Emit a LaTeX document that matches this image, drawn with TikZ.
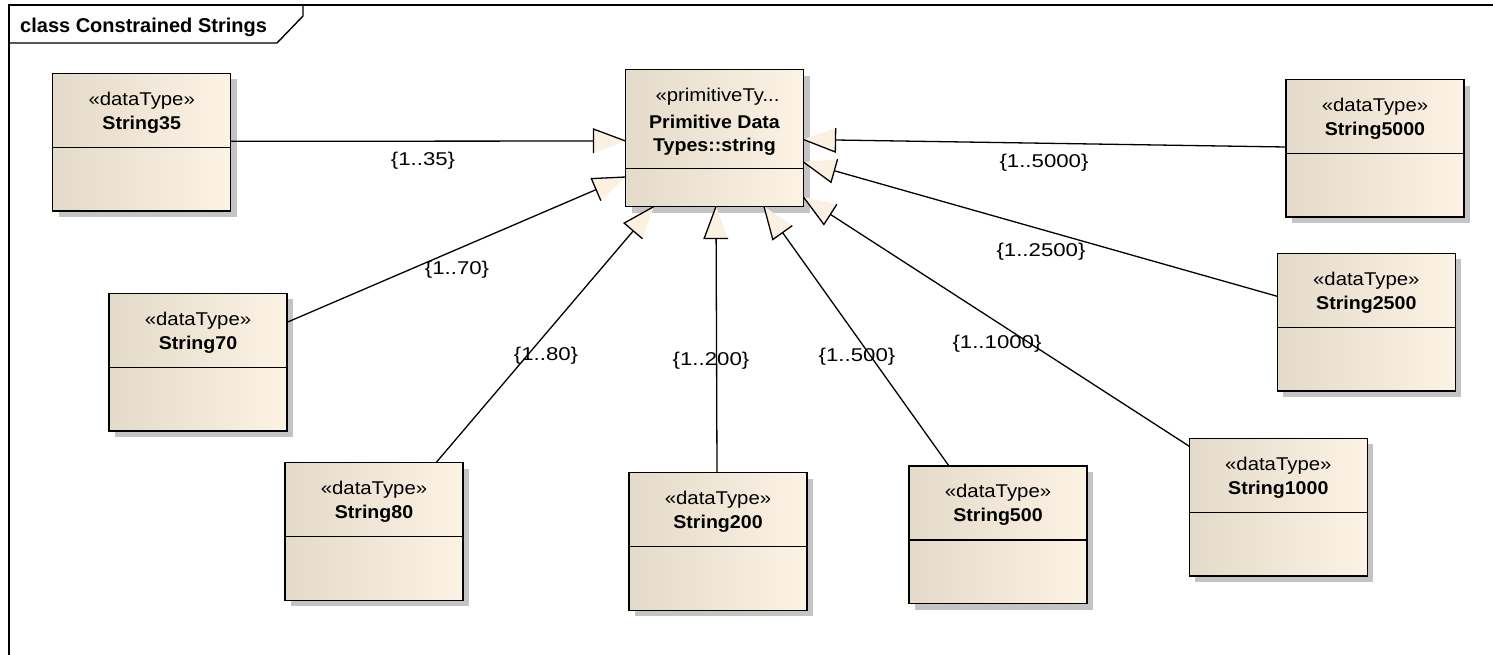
\documentclass[tikz,border=0pt]{standalone}
\usepackage{fontspec}
\setmainfont{Liberation Sans}
\newfontfamily\stfont[FakeStretch=1.1]{Liberation Sans}
\newfontfamily\nmfont[FakeStretch=1.06]{Liberation Sans}
\newfontfamily\lblfont[FakeStretch=1.2]{Liberation Sans}
\usetikzlibrary{calc}
\definecolor{boxL}{RGB}{228,218,201}
\definecolor{boxR}{RGB}{252,243,229}
\definecolor{headfill}{RGB}{251,240,225}
\definecolor{shadowc}{RGB}{196,196,196}
\tikzset{
  umlbox/.style={draw, line width=1.4pt, minimum width=178pt, minimum height=137.5pt,
    inner sep=0pt, outer sep=0pt, left color=boxL, right color=boxR, anchor=north west},
  shadowbox/.style={fill=shadowc},
  sepline/.style={line width=1.4pt},
  stereo/.style={font=\stfont\fontsize{18.5}{20}\selectfont, inner sep=0pt},
  cname/.style={font=\nmfont\bfseries\fontsize{18.5}{20}\selectfont, inner sep=0pt},
  conn/.style={line width=1.3pt, line join=miter},
  lbl/.style={font=\lblfont\fontsize{18.5}{20}\selectfont, inner sep=0pt},
  frameline/.style={line width=1.4pt},
  titletext/.style={font=\bfseries\fontsize{20}{22}\selectfont, inner sep=0pt, anchor=west}
}
% name, left, top, stereotype, class name
\newcommand{\dtbox}[5]{%
  \fill[shadowbox] (#2+6,#3+6) rectangle (#2+184,#3+143.5);
  \node[umlbox] (#1) at (#2,#3) {};
  \draw[sepline] ($(#1.north west)+(0,74)$) -- ($(#1.north east)+(0,74)$);
  \node[stereo] (#1-st) at ($(#1.north)+(0,27)$) {#4};
  \node[cname] (#1-nm) at ($(#1.north)+(0,51)$) {#5};
}
% tail, tip
\newcommand{\genarrow}[2]{%
  \path ($(#2)!32pt!(#1)$) coordinate (hb);
  \path ($(hb)!12pt!90:(#2)$) coordinate (he1);
  \path ($(hb)!12pt!-90:(#2)$) coordinate (he2);
  \draw[conn] (#1) -- (hb);
  \fill[headfill] (#2) -- (he1) -- (he2) -- cycle;
  \draw[conn] (he2) -- (he1) -- (#2);
}
\begin{document}
\begin{tikzpicture}[x=1pt, y=-1pt]
\useasboundingbox (0,0) rectangle (1493,654);
\clip (0,0) rectangle (1493,654);
\fill[white] (0,0) rectangle (1493,654);
% frame
\draw[frameline] (9,700) -- (9,5) -- (1520,5);
\draw[frameline] (9,43) -- (277,43) -- (303,16) -- (303,5);
\node[titletext] (title) at (20,27) {class Constrained Strings};
% central class
\fill[shadowbox] (625.5+6,69.5+6) rectangle (625.5+184,69.5+143);
\node[umlbox, minimum height=137pt] (base) at (625.5,69.5) {};
\draw[sepline] ($(base.north west)+(0,99)$) -- ($(base.north east)+(0,99)$);
\node[stereo] (base-st) at ($(base.north)+(3,27.5)$) {«primitiveTy...};
\node[cname] (base-n1) at ($(base.north)+(0,52)$) {Primitive Data};
\node[cname] (base-n2) at ($(base.north)+(0,77)$) {Types::string};
% data types
\dtbox{s35}{52.7}{73.3}{«dataType»}{String35}
\dtbox{s5000}{1286}{79.5}{«dataType»}{String5000}
\dtbox{s2500}{1277.3}{253.3}{«dataType»}{String2500}
\dtbox{s70}{109}{293.3}{«dataType»}{String70}
\dtbox{s80}{285}{462.7}{«dataType»}{String80}
\dtbox{s200}{629}{472.7}{«dataType»}{String200}
\dtbox{s500}{909}{466}{«dataType»}{String500}
\dtbox{s1000}{1189.3}{438.3}{«dataType»}{String1000}
% connector end points
\coordinate (a35) at ($(s35.north east)+(0,68)$);
\coordinate (a70) at ($(s70.north east)+(0,29)$);
\coordinate (a80) at ($(s80.north west)+(151,0)$);
\coordinate (a200) at ($(s200.north west)+(88,0)$);
\coordinate (a500) at ($(s500.north west)+(40,0)$);
\coordinate (a1000) at ($(s1000.north west)+(0,8)$);
\coordinate (a2500) at ($(s2500.north west)+(0,43)$);
\coordinate (a5000) at ($(s5000.north west)+(0,67.5)$);
\coordinate (b35) at ($(base.north west)+(0,71.5)$);
\coordinate (b70) at ($(base.north west)+(0,107.5)$);
\coordinate (b80) at ($(base.south west)+(28.5,0)$);
\coordinate (b200) at ($(base.south west)+(90.5,0)$);
\coordinate (b500) at ($(base.south west)+(138.5,0)$);
\coordinate (b1000) at ($(base.north east)+(0,127.5)$);
\coordinate (b2500) at ($(base.north east)+(0,92.5)$);
\coordinate (b5000) at ($(base.north east)+(0,70)$);
\genarrow{a35}{b35}
\genarrow{a70}{b70}
\genarrow{a80}{b80}
\genarrow{a200}{b200}
\genarrow{a500}{b500}
\genarrow{a1000}{b1000}
\genarrow{a2500}{b2500}
\genarrow{a5000}{b5000}
% labels
\node[lbl] (l35) at (423,161) {\{1..35\}};
\node[lbl] (l70) at (457,270) {\{1..70\}};
\node[lbl] (l80) at (546,356) {\{1..80\}};
\node[lbl] (l200) at (711,361) {\{1..200\}};
\node[lbl] (l500) at (857,357) {\{1..500\}};
\node[lbl] (l1000) at (997,344) {\{1..1000\}};
\node[lbl] (l2500) at (1041,252) {\{1..2500\}};
\node[lbl] (l5000) at (1044,163) {\{1..5000\}};
\end{tikzpicture}
\end{document}
